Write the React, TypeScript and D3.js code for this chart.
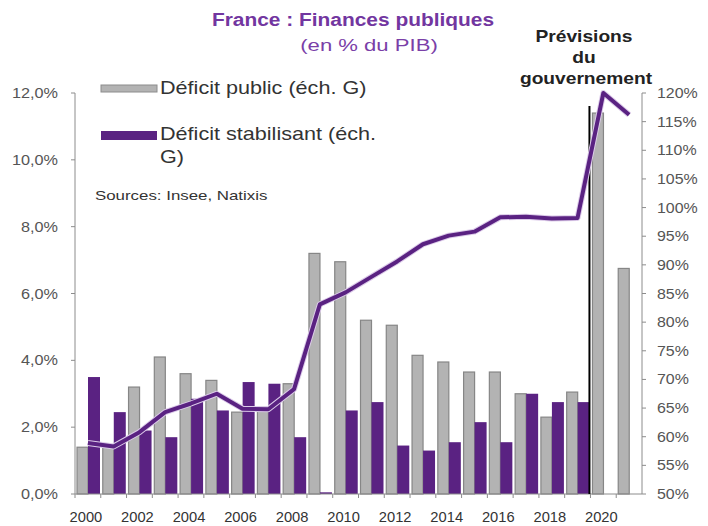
import React from "react";
import * as d3 from "d3";

const years = [2000,2001,2002,2003,2004,2005,2006,2007,2008,2009,2010,2011,2012,2013,2014,2015,2016,2017,2018,2019,2020,2021];
const deficitPublic = [1.4,1.4,3.2,4.1,3.6,3.4,2.45,2.6,3.3,7.2,6.95,5.2,5.05,4.15,3.95,3.65,3.65,3.0,2.3,3.05,11.4,6.75];
const deficitStabilisant: (number|null)[] = [3.5,2.45,1.9,1.7,2.85,2.5,3.35,3.3,1.7,0.05,2.5,2.75,1.45,1.3,1.55,2.15,1.55,3.0,2.75,2.75,null,null];
const dette = [58.9,58.3,60.8,64.3,65.8,67.5,64.9,64.8,68.3,83.1,85.2,87.9,90.6,93.6,95.1,95.8,98.3,98.4,98.1,98.2,120.0,116.2];
const leftTicks = [0,2,4,6,8,10,12];
const rightTicks = [50,55,60,65,70,75,80,85,90,95,100,105,110,115,120];
const xLabels = [2000,2002,2004,2006,2008,2010,2012,2014,2016,2018,2020];

const L = 75, R = 642, T = 93, B = 494;
const FONT = "'Liberation Sans', Arial, sans-serif";
const PURPLE = "#5a2282";

function ST(props: { x: number; y: number; sx?: number; size: number; anchor?: string; weight?: string; fill?: string; children: React.ReactNode }) {
  const { x, y, sx = 1, size, anchor = "start", weight = "normal", fill = "#333", children } = props;
  return (
    <text transform={`translate(${x},${y}) scale(${sx},1)`} fontSize={size} textAnchor={anchor} fontWeight={weight} fill={fill}>
      {children}
    </text>
  );
}

export default function App() {
  const x = d3.scaleBand<number>().domain(years).range([L, R]).padding(0);
  const yL = d3.scaleLinear().domain([0, 12]).range([B, T]);
  const yR = d3.scaleLinear().domain([50, 120]).range([B, T]);
  const bw = x.bandwidth();
  const line = d3.line<number>()
    .x((_, i) => (x(years[i]) as number) + bw / 2)
    .y(d => yR(d));
  const fmtL = (v: number) => v.toFixed(1).replace(".", ",") + "%";
  const sepX = (x(2020) as number) - 1;

  return (
    <svg width={708} height={526} style={{ position: "absolute", left: 0, top: 0, background: "#fff" }} fontFamily={FONT}>
      {/* title */}
      <ST x={353} y={26} size={19} sx={1.1} anchor="middle" weight="bold" fill="#7236a0">France : Finances publiques</ST>
      <ST x={369} y={51} size={17} sx={1.3} anchor="middle" fill="#7a3fa8">(en % du PIB)</ST>
      <ST x={584} y={42} size={16} sx={1.2} anchor="middle" weight="bold" fill="#222">Prévisions</ST>
      <ST x={584} y={63} size={16} sx={1.2} anchor="middle" weight="bold" fill="#222">du</ST>
      <ST x={586} y={84} size={16} sx={1.2} anchor="middle" weight="bold" fill="#222">gouvernement</ST>

      {/* legend */}
      <rect x={101} y={85} width={56} height={7} fill="#b3b3b3" stroke="#8c8c8c" strokeWidth={1} />
      <ST x={160} y={94} size={18} sx={1.2} fill="#333">Déficit public (éch. G)</ST>
      <rect x={101} y={131} width={56} height={9} fill={PURPLE} />
      <ST x={160} y={140} size={18} sx={1.2} fill="#333">Déficit stabilisant (éch.</ST>
      <ST x={160} y={163} size={18} sx={1.2} fill="#333">G)</ST>
      <ST x={95} y={200} size={13.5} sx={1.25} fill="#333">Sources: Insee, Natixis</ST>

      {/* left axis */}
      <line x1={L} x2={L} y1={T} y2={B} stroke="#8c8c8c" />
      {leftTicks.map(t => (
        <g key={"l" + t}>
          <line x1={L - 4} x2={L} y1={yL(t)} y2={yL(t)} stroke="#8c8c8c" />
          <ST x={58} y={yL(t) + 5} size={14.5} sx={1.12} anchor="end" fill="#555">{fmtL(t)}</ST>
        </g>
      ))}
      {/* right axis */}
      <line x1={R} x2={R} y1={T} y2={B} stroke="#8c8c8c" />
      {rightTicks.map(t => (
        <g key={"r" + t}>
          <line x1={R} x2={R + 4} y1={yR(t)} y2={yR(t)} stroke="#8c8c8c" />
          <ST x={657} y={yR(t) + 5} size={14.5} sx={1.1} fill="#555">{t + "%"}</ST>
        </g>
      ))}

      {/* bars */}
      {years.map((yr, i) => {
        const x0 = x(yr) as number;
        const s = deficitStabilisant[i];
        return (
          <g key={"b" + yr}>
            <rect x={x0 + 2} y={yL(deficitPublic[i])} width={11} height={B - yL(deficitPublic[i])} fill="#b3b3b3" stroke="#868686" strokeWidth={1.2} />
            {s !== null && (
              <rect x={x0 + 13} y={yL(s)} width={12} height={B - yL(s)} fill={PURPLE} />
            )}
          </g>
        );
      })}

      {/* bottom axis */}
      <line x1={L} x2={R} y1={B} y2={B} stroke="#8c8c8c" />
      {years.map(yr => (
        <line key={"t" + yr} x1={x(yr) as number} x2={x(yr) as number} y1={B} y2={B + 4} stroke="#8c8c8c" />
      ))}
      {xLabels.map(yr => (
        <ST key={"x" + yr} x={(x(yr) as number) + bw / 2 - 2} y={522} size={14} sx={1.05} anchor="middle" fill="#333">{yr}</ST>
      ))}

      {/* separator */}
      <line x1={sepX} x2={sepX} y1={106} y2={B} stroke="#000" strokeWidth={2} />

      {/* debt line */}
      <path d={line(dette) || ""} fill="none" stroke="#dccbe9" strokeWidth={6} strokeLinejoin="round" />
      <path d={line(dette) || ""} fill="none" stroke={PURPLE} strokeWidth={4} strokeLinejoin="round" />
    </svg>
  );
}
